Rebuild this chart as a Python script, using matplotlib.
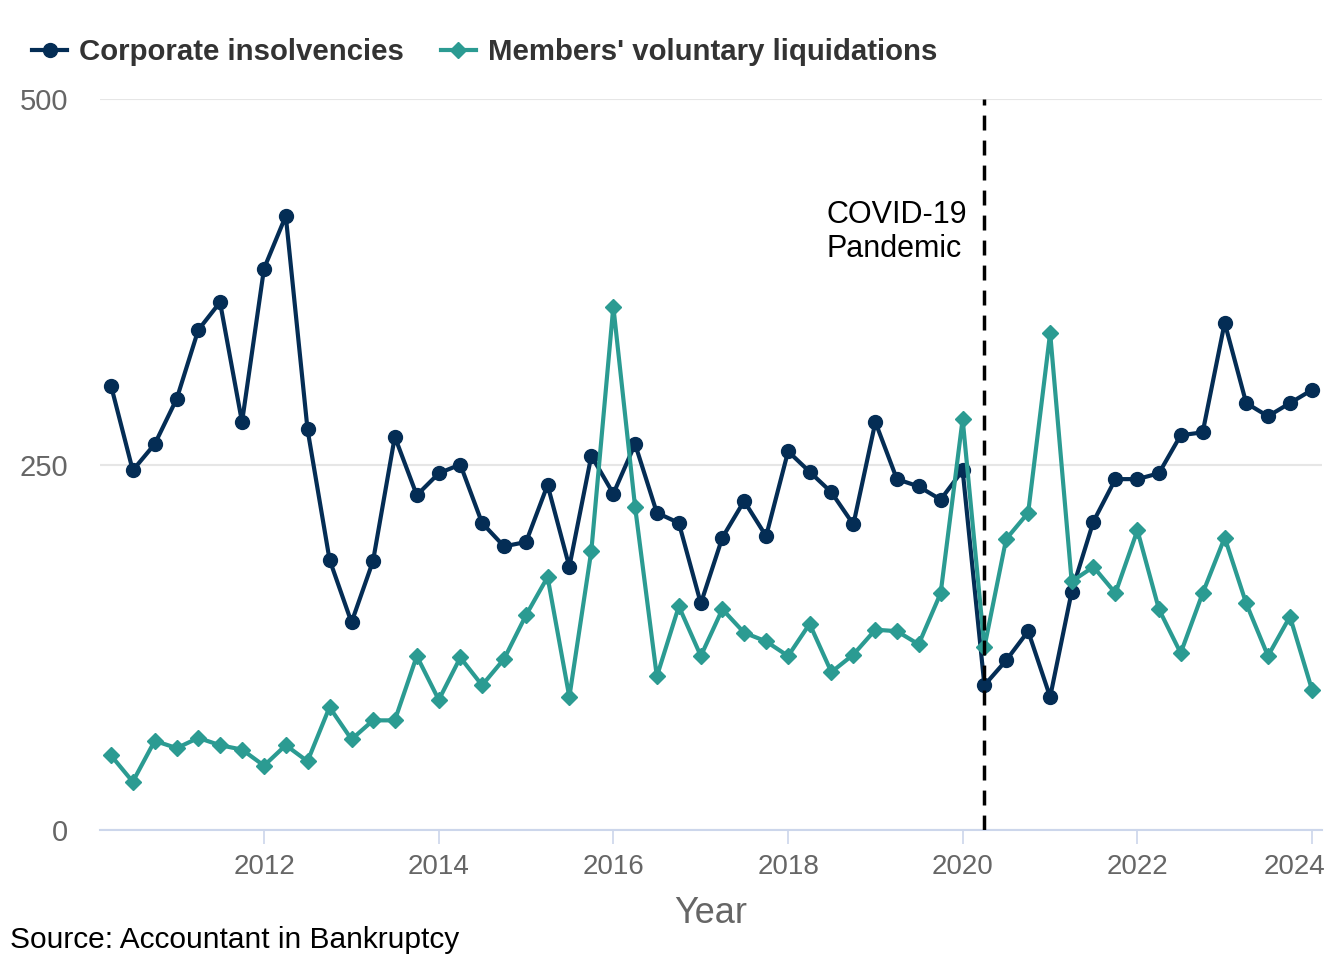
import matplotlib
matplotlib.use("Agg")
import matplotlib.pyplot as plt
import matplotlib.dates as mdates
import matplotlib.transforms as mtransforms
import pandas as pd

plt.rcParams['font.family'] = ['Liberation Sans', 'DejaVu Sans']

quarters = pd.period_range('2010Q2', '2024Q1', freq='Q').to_timestamp(how='start')

corporate_insolvencies = [304, 246, 264, 295, 342, 361, 279, 384, 420, 274,
                          185, 142, 184, 269, 229, 244, 250, 210, 194, 197,
                          236, 180, 256, 230, 264, 217, 210, 155, 200, 225,
                          201, 259, 245, 231, 209, 279, 240, 235, 226, 246,
                          99, 116, 136, 91, 163, 211, 240, 240, 244, 270,
                          272, 347, 292, 283, 292, 301]
members_voluntary_liquidations = [51, 33, 61, 56, 63, 58, 55, 44, 58, 47,
                                  84, 62, 75, 75, 119, 89, 118, 99, 117, 147,
                                  173, 91, 191, 358, 221, 105, 153, 119, 151, 135,
                                  129, 119, 141, 108, 120, 137, 136, 127, 162, 281,
                                  125, 199, 217, 340, 170, 180, 162, 205, 151, 121,
                                  162, 200, 155, 119, 146, 96]
series_labels = ["Corporate insolvencies", "Members' voluntary liquidations"]
year_ticks = [2012, 2014, 2016, 2018, 2020, 2022, 2024]
y_ticks = [0, 250, 500]
covid_date = pd.Timestamp('2020-04-01')
covid_label = "COVID-19\nPandemic"

dark = "#042d55"
teal = "#2b9b92"
axis_col = "#ccd6eb"
grid_col = "#e6e6e6"
label_col = "#666666"

fig = plt.figure(figsize=(13.44, 9.6), dpi=100)
ax = fig.add_axes([100/1344, 1-830/960, (1322-100)/1344, (830-99)/960])

ax.plot(quarters, corporate_insolvencies, color=dark, lw=3, marker='o', ms=10,
        label=series_labels[0], zorder=3)
ax.plot(quarters, members_voluntary_liquidations, color=teal, lw=3, marker='D', ms=8,
        label=series_labels[1], zorder=3)

ax.axvline(covid_date, color='black', lw=2.5, ls=(0, (4.3, 2.9)), zorder=4)
ax.text(pd.Timestamp('2018-06-12'), 431, covid_label, ha='left', va='top',
        multialignment='left', fontsize=22, color='black', linespacing=1.18)

ax.set_ylim(0, 500)
ax.set_xlim(pd.Timestamp('2010-02-14'), pd.Timestamp('2024-02-12'))
ax.set_yticks(y_ticks)
ax.set_yticklabels([str(v) for v in y_ticks])
ax.set_xticks([pd.Timestamp(f'{y}-01-01') for y in year_ticks])
ax.set_xticklabels([str(y) for y in year_ticks])

ax.grid(axis='y', color=grid_col, lw=1.5)
ax.set_axisbelow(True)
for s in ['top', 'right', 'left']:
    ax.spines[s].set_visible(False)
ax.spines['bottom'].set_color(axis_col)
ax.spines['bottom'].set_linewidth(1.5)
ax.tick_params(axis='y', length=0, pad=23, labelsize=21, labelcolor=label_col)
ax.tick_params(axis='x', length=10, width=1.2, color=axis_col, pad=7,
               labelsize=20, labelcolor=label_col)

last = ax.get_xticklabels()[-1]
last.set_ha('right')
last.set_transform(last.get_transform() +
                   mtransforms.ScaledTranslation(13/100, 0, fig.dpi_scale_trans))

ax.set_xlabel("Year", fontsize=26, color=label_col, labelpad=12)

leg = fig.legend(loc='center left', bbox_to_anchor=(32/1344, 1-52/960), ncol=2,
                 frameon=False, prop={'weight': 'bold', 'size': 21.2},
                 handlelength=1.2, handletextpad=0.4, columnspacing=1.25,
                 borderpad=0, borderaxespad=0)
for t in leg.get_texts():
    t.set_color("#333333")

fig.text(10/1344, 1-940/960, "Source: Accountant in Bankruptcy", fontsize=21.5,
         color='black', ha='left', va='center')

fig.savefig("out.png", dpi=100)
